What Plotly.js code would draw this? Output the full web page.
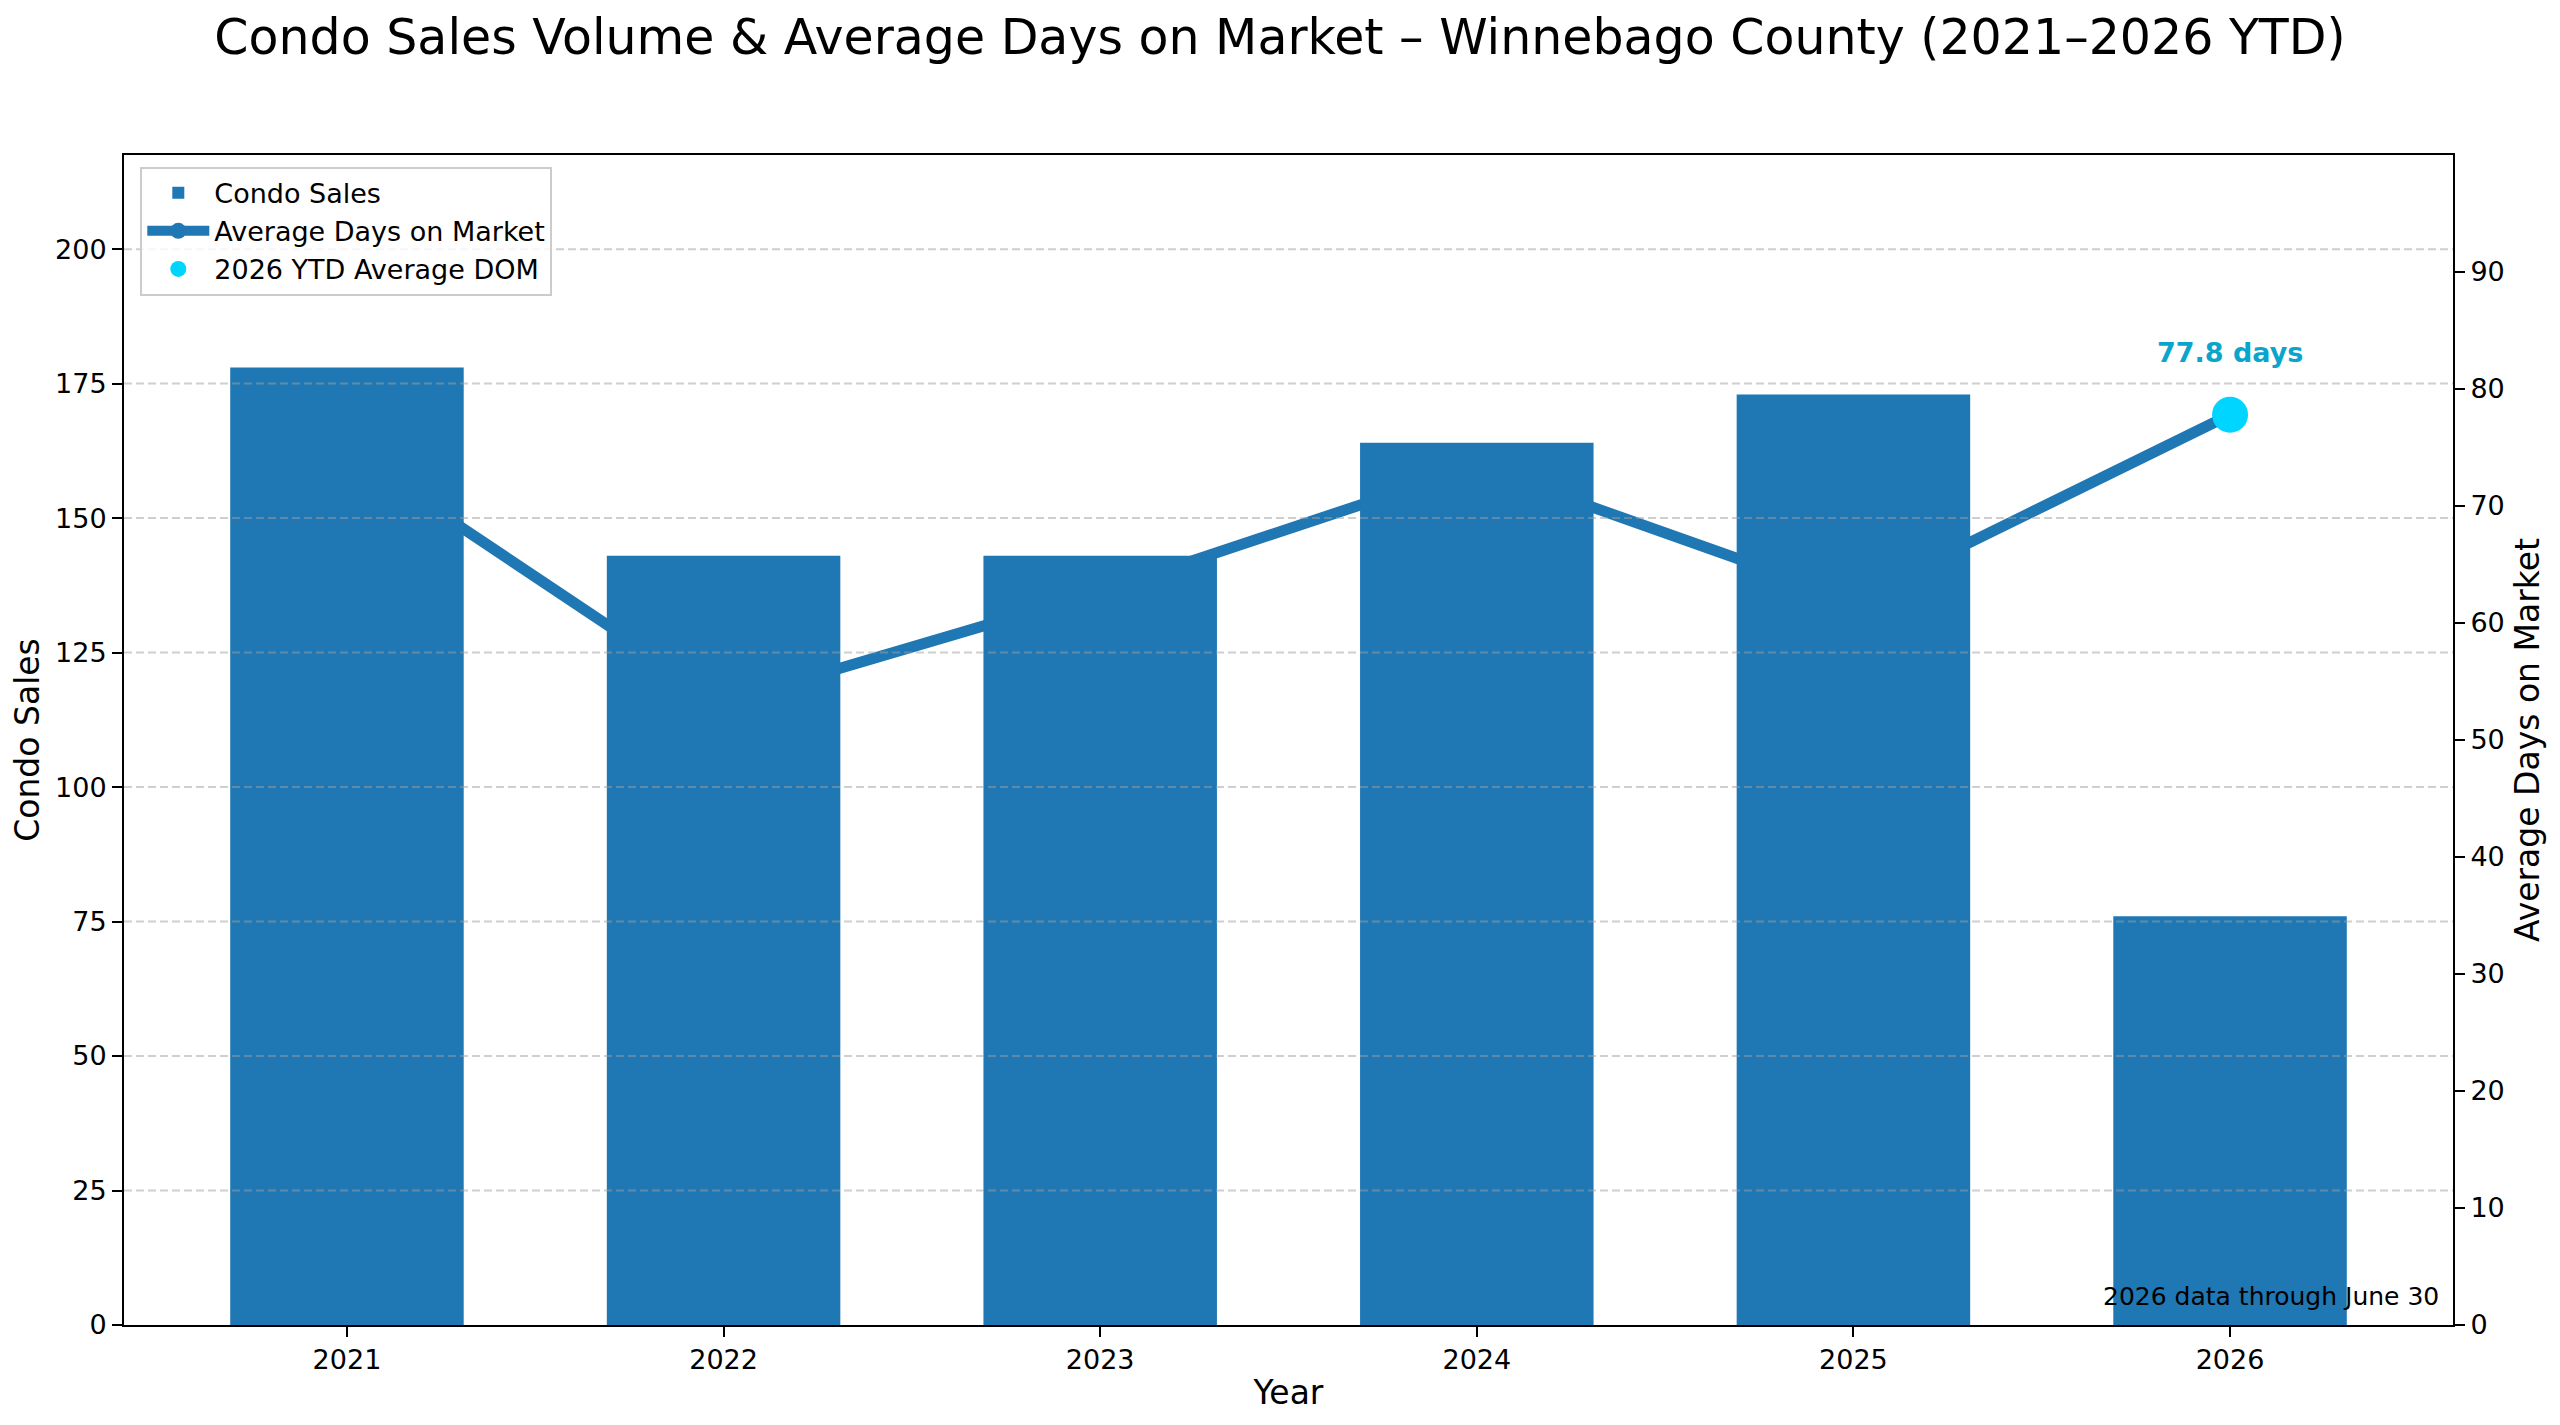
<!DOCTYPE html>
<html>
<head>
<meta charset="utf-8">
<script src="https://cdn.plot.ly/plotly-3.0.1.min.js"></script>
<style>
  html, body { margin: 0; padding: 0; background: #fff; }
  #graph { width: 2560px; height: 1425px; }
</style>
</head>
<body>
<div id="graph"></div>
<script>
// chart values
const years = ["2021", "2022", "2023", "2024", "2025", "2026"];
const condoSales = [178, 143, 143, 164, 173, 76];
const avgDom = [74.7, 53.2, 62.7, 73.4, 62.0, 77.8];
const ytdYear = ["2026"];
const ytdDom = [77.8];
const salesTicks = [0, 25, 50, 75, 100, 125, 150, 175, 200];
const domTicks = [0, 10, 20, 30, 40, 50, 60, 70, 80, 90];

const BLUE = "#1f77b4";
const CYAN = "#00d5ff";
const FONT = "DejaVu Sans, sans-serif";

function initPlot() {
    // line + marker go on the primary axis so the bars (overlay axis) sit on top of them
    const lineTrace = {
        name: "Average Days on Market",
        x: years,
        y: avgDom,
        yaxis: "y",
        mode: "lines+markers",
        line: { color: BLUE, width: 11 },
        marker: { color: BLUE, size: 22 },
        legendrank: 2,
    };
    const ytdTrace = {
        name: "2026 YTD Average DOM",
        x: ytdYear,
        y: ytdDom,
        yaxis: "y",
        mode: "markers",
        marker: { color: CYAN, size: 36 },
        legendrank: 3,
    };
    const barTrace = {
        name: "Condo Sales",
        type: "bar",
        x: years,
        y: condoSales,
        yaxis: "y2",
        width: 0.62,
        marker: { color: BLUE, line: { width: 0 } },
        legendrank: 1,
    };

    // dashed grid drawn above the bars, like the original
    const gridShapes = salesTicks.filter(v => v > 0).map(v => ({
        type: "line",
        layer: "above",
        xref: "paper", x0: 0, x1: 1,
        yref: "y2", y0: v, y1: v,
        line: { color: "rgba(160,160,160,0.5)", width: 2, dash: "8px,4px" },
    }));

    const axisCommon = {
        showline: true,
        linecolor: "#000",
        linewidth: 2,
        ticks: "outside",
        ticklen: 10,
        tickwidth: 2,
        tickcolor: "#000",
        showgrid: false,
        zeroline: false,
        tickfont: { family: FONT, size: 27, color: "#000" },
    };

    // the category axis needs the index of 2026 for the label position
    const ytdIndex = years.indexOf(ytdYear[0]);

    const layout = {
        width: 2560,
        height: 1425,
        paper_bgcolor: "#fff",
        plot_bgcolor: "#fff",
        margin: { l: 124, r: 107, t: 155, b: 100 },
        font: { family: FONT, color: "#000" },
        title: {
            text: "Condo Sales Volume & Average Days on Market – Winnebago County (2021–2026 YTD)",
            font: { family: FONT, size: 49, color: "#000" },
            x: 0.5, xanchor: "center",
            y: 0.974, yanchor: "middle",
            yref: "container",
        },
        xaxis: Object.assign({}, axisCommon, {
            type: "category",
            range: [-0.592, 5.592],
            mirror: true,
            title: { text: "Year", font: { family: FONT, size: 33 }, standoff: 6 },
        }),
        yaxis: Object.assign({}, axisCommon, {
            side: "right",
            range: [0, 100],
            tickvals: domTicks,
            title: { text: "Average Days on Market", font: { family: FONT, size: 33 }, standoff: 12 },
        }),
        yaxis2: Object.assign({}, axisCommon, {
            overlaying: "y",
            side: "left",
            range: [0, 217.5],
            tickvals: salesTicks,
            title: { text: "Condo Sales", font: { family: FONT, size: 33 }, standoff: 6 },
        }),
        shapes: gridShapes,
        showlegend: true,
        legend: {
            x: 0.007, y: 0.99,
            xanchor: "left", yanchor: "top",
            bgcolor: "rgba(255,255,255,0.8)",
            bordercolor: "#cccccc",
            borderwidth: 2,
            font: { family: FONT, size: 27, color: "#000" },
            itemwidth: 62,
            traceorder: "normal",
        },
        annotations: [
            {
                xref: "x", yref: "y",
                x: ytdIndex, y: ytdDom[0],
                text: "<b>" + ytdDom[0].toFixed(1) + " days</b>",
                showarrow: false,
                yanchor: "middle",
                yshift: 62,
                font: { family: FONT, size: 27, color: "#0aa5cc" },
            },
            {
                xref: "paper", yref: "paper",
                x: 0.995, y: 0.01,
                xanchor: "right", yanchor: "bottom",
                text: "2026 data through June 30",
                showarrow: false,
                font: { family: FONT, size: 25, color: "#000" },
            },
        ],
    };

    const config = { displaylogo: false, displayModeBar: false, staticPlot: true };
    Plotly.newPlot("graph", [lineTrace, ytdTrace, barTrace], layout, config);
}

document.addEventListener("DOMContentLoaded", () => {
    initPlot();
});
</script>
</body>
</html>
